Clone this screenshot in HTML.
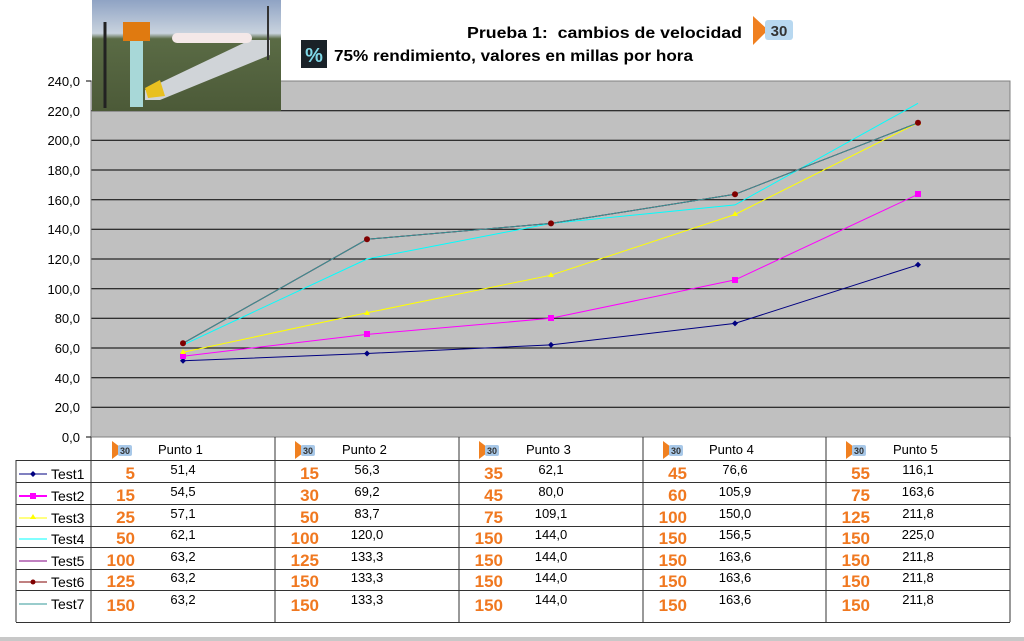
<!DOCTYPE html>
<html><head><meta charset="utf-8"><style>
body{margin:0;background:#fff;}
svg{display:block;font-family:"Liberation Sans",Arial,sans-serif;}
</style></head><body>
<svg width="1024" height="641" viewBox="0 0 1024 641" xmlns="http://www.w3.org/2000/svg">
<defs>
<linearGradient id="sky" x1="0" y1="0" x2="0" y2="1"><stop offset="0" stop-color="#8fa3c4"/><stop offset="0.3" stop-color="#c9d3de"/><stop offset="0.35" stop-color="#5a6b45"/><stop offset="1" stop-color="#4c5a38"/></linearGradient>
<g id="ic"><path d="M0,0 L12,9 L0,18 Z" fill="#f08020"/><rect x="6" y="4" width="14" height="11" rx="2" fill="#a8c8e8"/><text x="13" y="13" font-size="9" font-weight="bold" text-anchor="middle" fill="#333">30</text></g>
</defs>
<rect x="91" y="81" width="919" height="356" fill="#c0c0c0"/>
<g stroke="#000" stroke-width="1">
<line x1="91" y1="110.7" x2="1010" y2="110.7"/><line x1="91" y1="140.3" x2="1010" y2="140.3"/>
<line x1="91" y1="170" x2="1010" y2="170"/><line x1="91" y1="199.7" x2="1010" y2="199.7"/>
<line x1="91" y1="229.3" x2="1010" y2="229.3"/><line x1="91" y1="259" x2="1010" y2="259"/>
<line x1="91" y1="288.7" x2="1010" y2="288.7"/><line x1="91" y1="318.3" x2="1010" y2="318.3"/>
<line x1="91" y1="348" x2="1010" y2="348"/><line x1="91" y1="377.7" x2="1010" y2="377.7"/>
<line x1="91" y1="407.3" x2="1010" y2="407.3"/>
</g>
<rect x="91" y="81" width="919" height="356" fill="none" stroke="#808080"/>
<g font-size="13" text-anchor="end" fill="#000">
<text x="80" y="86">240,0</text><text x="80" y="116">220,0</text><text x="80" y="145">200,0</text><text x="80" y="175">180,0</text><text x="80" y="205">160,0</text><text x="80" y="234">140,0</text><text x="80" y="264">120,0</text><text x="80" y="294">100,0</text><text x="80" y="323">80,0</text><text x="80" y="353">60,0</text><text x="80" y="383">40,0</text><text x="80" y="412">20,0</text><text x="80" y="442">0,0</text>
</g>
<g stroke="#000"><line x1="86" y1="81" x2="91" y2="81"/><line x1="86" y1="437" x2="91" y2="437"/></g>
<g fill="none" stroke-width="1">
<polyline stroke="#000080" points="183,360.8 367,353.5 551,344.9 735,323.4 918,264.8"/>
<polyline stroke="#ff00ff" points="183,356.2 367,334.4 551,318.3 735,279.9 918,194.3"/>
<polyline stroke="#ffff00" points="183,352.3 367,312.8 551,275.2 735,214.5 918,122.8"/>
<polyline stroke="#00ffff" points="183,344.9 367,259 551,223.4 735,204.9 918,103.3"/>
<polyline stroke="#800080" points="183,343.3 367,239.3 551,223.4 735,194.3 918,122.8"/>
<polyline stroke="#800000" points="183,343.3 367,239.3 551,223.4 735,194.3 918,122.8"/>
<polyline stroke="#339999" points="183,343.3 367,239.3 551,223.4 735,194.3 918,122.8"/>
</g>
<g fill="#000080"><path d="M183,357.8l3,3l-3,3l-3,-3z"/><path d="M367,350.5l3,3l-3,3l-3,-3z"/><path d="M551,341.9l3,3l-3,3l-3,-3z"/><path d="M735,320.4l3,3l-3,3l-3,-3z"/><path d="M918,261.8l3,3l-3,3l-3,-3z"/></g>
<g fill="#ff00ff"><rect x="180" y="353" width="6" height="6"/><rect x="364" y="331" width="6" height="6"/><rect x="548" y="315" width="6" height="6"/><rect x="732" y="277" width="6" height="6"/><rect x="915" y="191" width="6" height="6"/></g>
<g fill="#ffff00"><path d="M183,349l3,5h-6z"/><path d="M367,310l3,5h-6z"/><path d="M551,272l3,5h-6z"/><path d="M735,211l3,5h-6z"/><path d="M918,120l3,5h-6z"/></g>
<g fill="#800000"><circle cx="183" cy="343.3" r="3"/><circle cx="367" cy="239.3" r="3"/><circle cx="551" cy="223.4" r="3"/><circle cx="735" cy="194.3" r="3"/><circle cx="918" cy="122.8" r="3"/></g>
<g stroke="#333" stroke-width="1" fill="none">
<line x1="91" y1="437" x2="91" y2="622"/><line x1="275" y1="437" x2="275" y2="622"/><line x1="459" y1="437" x2="459" y2="622"/><line x1="643" y1="437" x2="643" y2="622"/><line x1="826" y1="437" x2="826" y2="622"/><line x1="1010" y1="437" x2="1010" y2="622"/>
<line x1="16" y1="460" x2="16" y2="622"/>
<line x1="16" y1="460.5" x2="1010" y2="460.5"/><line x1="16" y1="482.5" x2="1010" y2="482.5"/><line x1="16" y1="504.5" x2="1010" y2="504.5"/><line x1="16" y1="526.5" x2="1010" y2="526.5"/><line x1="16" y1="547.5" x2="1010" y2="547.5"/><line x1="16" y1="569.5" x2="1010" y2="569.5"/><line x1="16" y1="590.5" x2="1010" y2="590.5"/><line x1="16" y1="622.5" x2="1010" y2="622.5"/>
</g>
<rect x="0" y="637" width="1024" height="4" fill="#c8c8c8"/>
<use href="#ic" x="112" y="441"/><use href="#ic" x="295" y="441"/><use href="#ic" x="479" y="441"/><use href="#ic" x="663" y="441"/><use href="#ic" x="846" y="441"/>
<g font-size="13" fill="#000"><text x="158" y="454">Punto 1</text><text x="342" y="454">Punto 2</text><text x="526" y="454">Punto 3</text><text x="709" y="454">Punto 4</text><text x="893" y="454">Punto 5</text></g>
<g stroke-width="1">
<line x1="19" y1="474" x2="47" y2="474" stroke="#000080"/><line x1="19" y1="496" x2="47" y2="496" stroke="#ff00ff" stroke-width="2"/><line x1="19" y1="518" x2="47" y2="518" stroke="#ffff00"/><line x1="19" y1="539" x2="47" y2="539" stroke="#00ffff"/><line x1="19" y1="561" x2="47" y2="561" stroke="#800080"/><line x1="19" y1="582" x2="47" y2="582" stroke="#800000"/><line x1="19" y1="604" x2="47" y2="604" stroke="#339999"/>
</g>
<path d="M33,471l3,3l-3,3l-3,-3z" fill="#000080"/><rect x="30" y="493" width="6" height="6" fill="#ff00ff"/><path d="M33,514l3,5h-6z" fill="#ffff00"/><circle cx="33" cy="582" r="2.5" fill="#800000"/>
<g font-size="14" fill="#000"><text x="51" y="479">Test1</text><text x="51" y="501">Test2</text><text x="51" y="523">Test3</text><text x="51" y="544">Test4</text><text x="51" y="566">Test5</text><text x="51" y="587">Test6</text><text x="51" y="609">Test7</text></g>
<g font-size="17" font-weight="bold" fill="#f07820" text-anchor="end">
<text x="135" y="479">5</text><text x="135" y="501">15</text><text x="135" y="523">25</text><text x="135" y="544">50</text><text x="135" y="566">100</text><text x="135" y="587">125</text><text x="135" y="611">150</text>
<text x="319" y="479">15</text><text x="319" y="501">30</text><text x="319" y="523">50</text><text x="319" y="544">100</text><text x="319" y="566">125</text><text x="319" y="587">150</text><text x="319" y="611">150</text>
<text x="503" y="479">35</text><text x="503" y="501">45</text><text x="503" y="523">75</text><text x="503" y="544">150</text><text x="503" y="566">150</text><text x="503" y="587">150</text><text x="503" y="611">150</text>
<text x="687" y="479">45</text><text x="687" y="501">60</text><text x="687" y="523">100</text><text x="687" y="544">150</text><text x="687" y="566">150</text><text x="687" y="587">150</text><text x="687" y="611">150</text>
<text x="870" y="479">55</text><text x="870" y="501">75</text><text x="870" y="523">125</text><text x="870" y="544">150</text><text x="870" y="566">150</text><text x="870" y="587">150</text><text x="870" y="611">150</text>
</g>
<g font-size="13" fill="#000" text-anchor="middle">
<text x="183" y="474">51,4</text><text x="183" y="496">54,5</text><text x="183" y="518">57,1</text><text x="183" y="539">62,1</text><text x="183" y="561">63,2</text><text x="183" y="582">63,2</text><text x="183" y="604">63,2</text>
<text x="367" y="474">56,3</text><text x="367" y="496">69,2</text><text x="367" y="518">83,7</text><text x="367" y="539">120,0</text><text x="367" y="561">133,3</text><text x="367" y="582">133,3</text><text x="367" y="604">133,3</text>
<text x="551" y="474">62,1</text><text x="551" y="496">80,0</text><text x="551" y="518">109,1</text><text x="551" y="539">144,0</text><text x="551" y="561">144,0</text><text x="551" y="582">144,0</text><text x="551" y="604">144,0</text>
<text x="735" y="474">76,6</text><text x="735" y="496">105,9</text><text x="735" y="518">150,0</text><text x="735" y="539">156,5</text><text x="735" y="561">163,6</text><text x="735" y="582">163,6</text><text x="735" y="604">163,6</text>
<text x="918" y="474">116,1</text><text x="918" y="496">163,6</text><text x="918" y="518">211,8</text><text x="918" y="539">225,0</text><text x="918" y="561">211,8</text><text x="918" y="582">211,8</text><text x="918" y="604">211,8</text>
</g>
<rect x="92" y="0" width="189" height="111" fill="url(#sky)"/>
<rect x="123" y="22" width="27" height="19" fill="#e07a10"/>
<rect x="130" y="41" width="13" height="66" fill="#a8d8d8"/>
<path d="M145,90 L250,40 L270,40 L270,55 L160,100 L145,100 Z" fill="#d0d4d8"/>
<path d="M145,88 L160,80 L165,96 L148,98 Z" fill="#e8c020"/>
<rect x="172" y="33" width="80" height="10" rx="5" fill="#f4e8e8"/>
<line x1="105" y1="22" x2="105" y2="108" stroke="#222" stroke-width="3"/>
<line x1="268" y1="6" x2="268" y2="60" stroke="#333" stroke-width="2"/>
<text x="467" y="38" font-size="16" font-weight="bold" fill="#000" textLength="275" lengthAdjust="spacingAndGlyphs" xml:space="preserve">Prueba 1:  cambios de velocidad</text>
<path d="M753,16 L768,30 L753,45 Z" fill="#f08020"/><rect x="765" y="20" width="28" height="20" rx="3" fill="#b8d8f0"/><text x="779" y="36" font-size="15" font-weight="bold" text-anchor="middle" fill="#333">30</text>
<rect x="301" y="40" width="26" height="28" fill="#1a2228"/><text x="314" y="62" font-size="20" font-weight="bold" text-anchor="middle" fill="#7fd8e8">%</text>
<text x="334" y="61" font-size="16" font-weight="bold" fill="#000" textLength="359" lengthAdjust="spacingAndGlyphs">75% rendimiento, valores en millas por hora</text>
</svg>
</body></html>
